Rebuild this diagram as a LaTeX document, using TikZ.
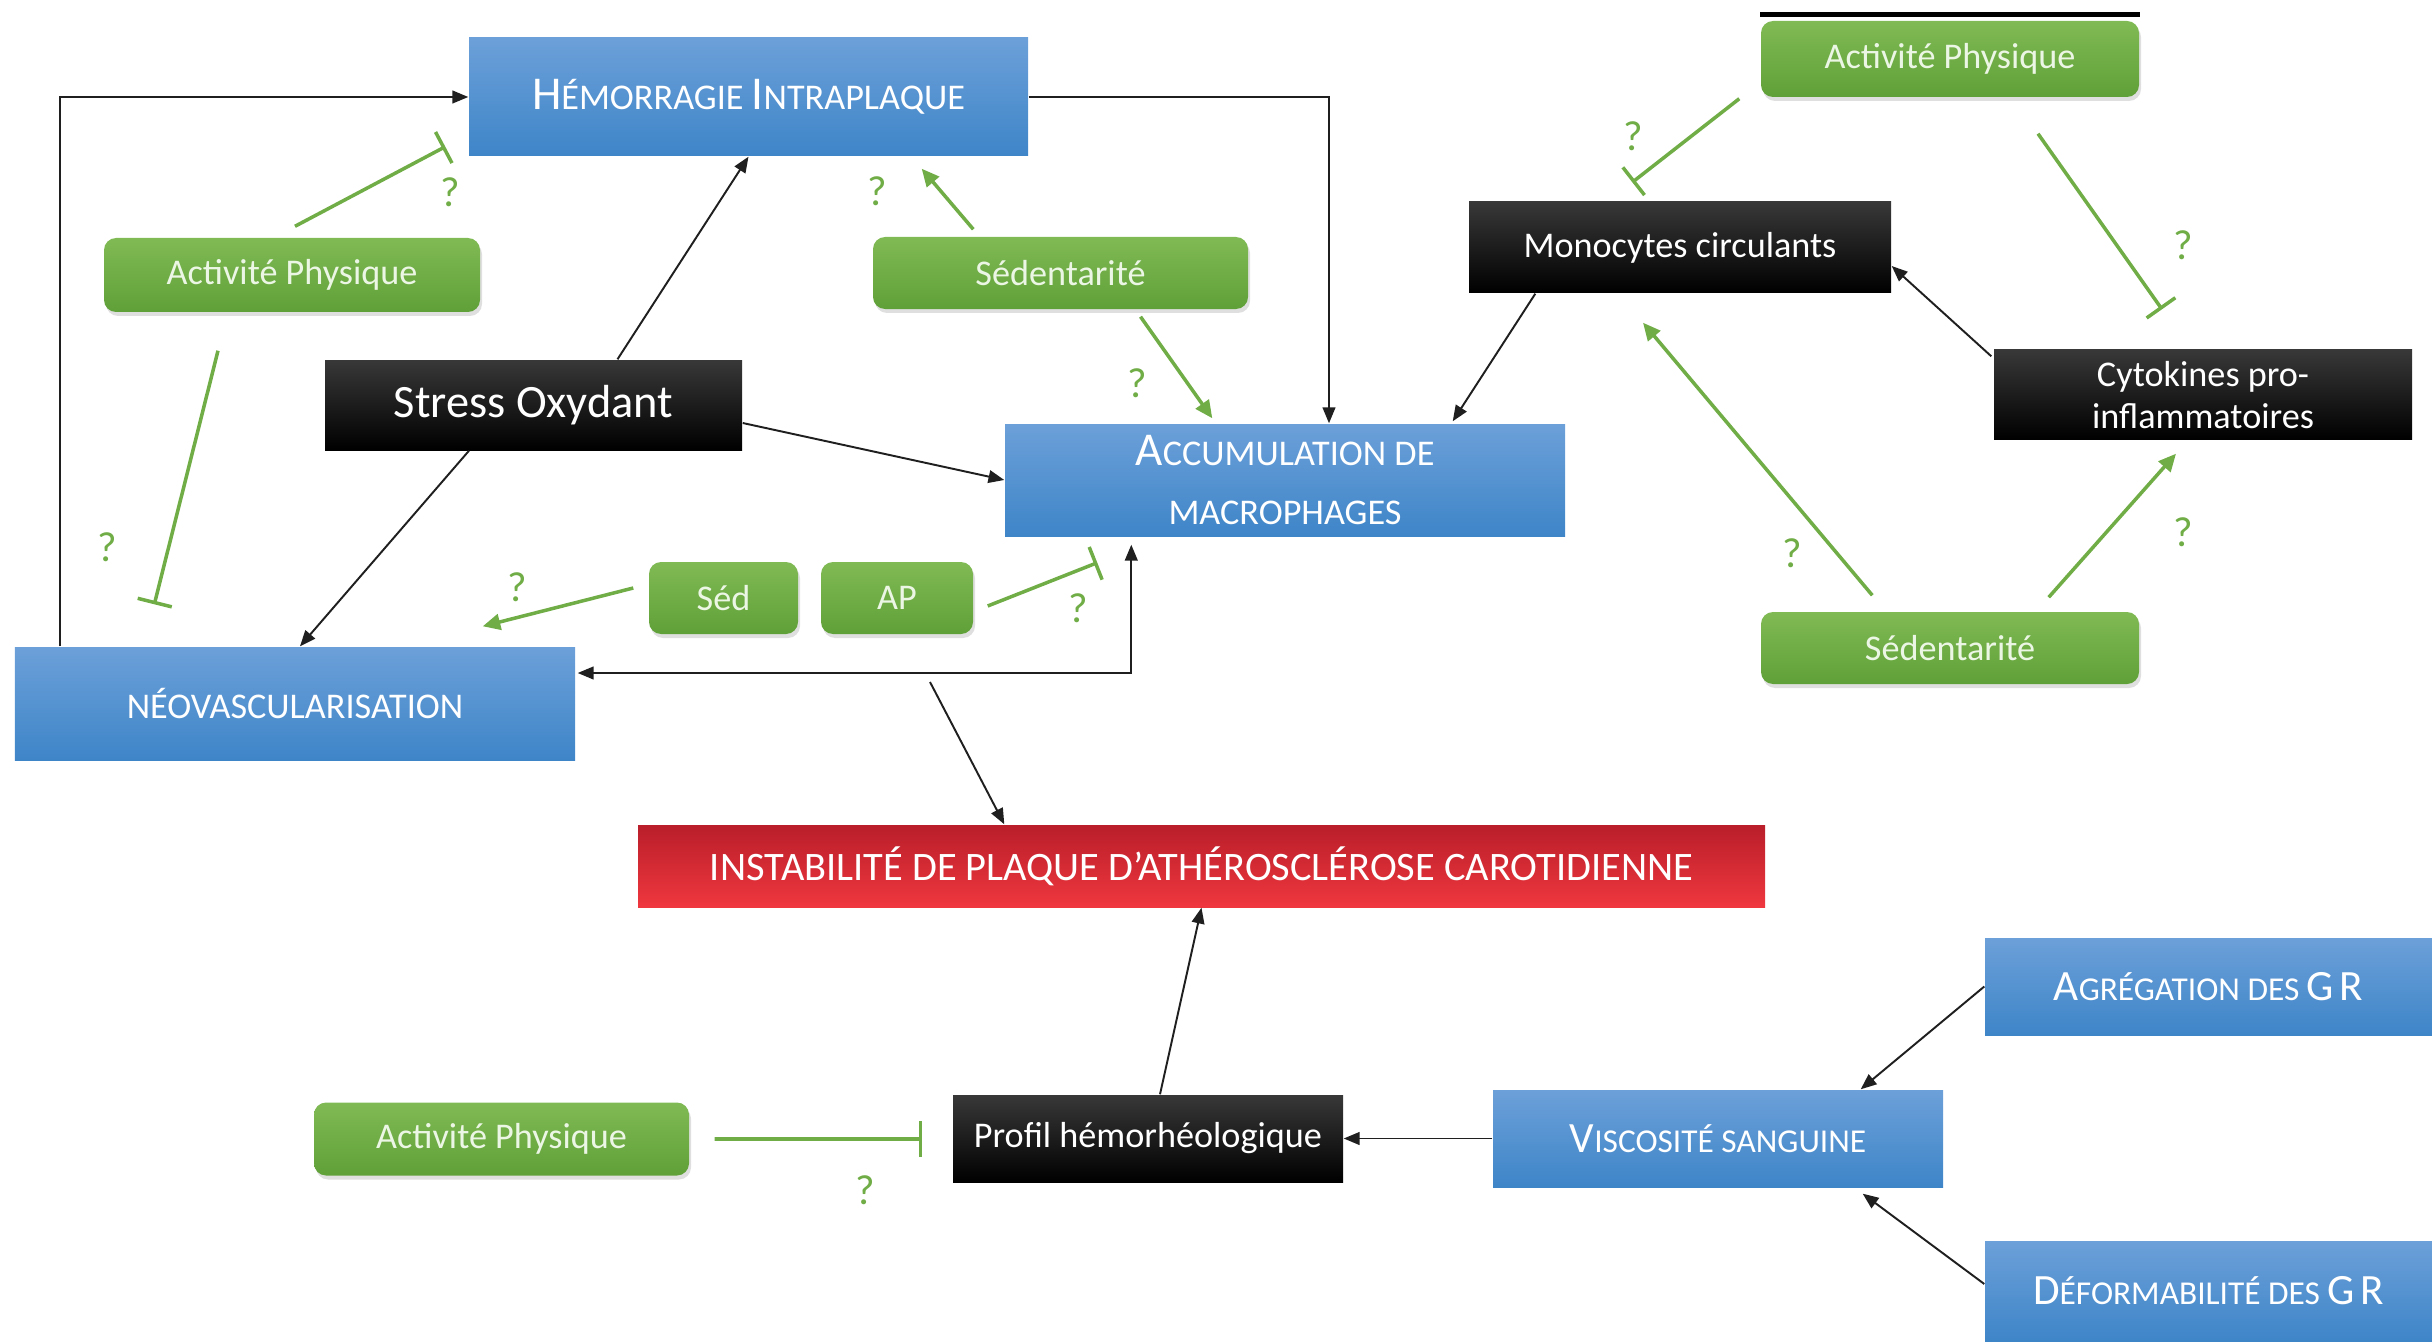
\documentclass[tikz,border=0pt]{standalone}
\usepackage{fontspec}
\setmainfont{Carlito}
\usetikzlibrary{arrows.meta,calc,shadows}
\definecolor{bleuh}{RGB}{108,160,217}
\definecolor{bleub}{RGB}{62,133,200}
\definecolor{verth}{RGB}{128,186,84}
\definecolor{vertb}{RGB}{96,160,56}
\definecolor{rougeh}{RGB}{185,30,42}
\definecolor{rougeb}{RGB}{237,28,36}
\definecolor{trait}{RGB}{112,173,71}
\definecolor{texteclair}{RGB}{236,246,228}
\newcommand{\grand}[2][13.4]{{\fontsize{#1}{#1}\selectfont #2}}
\begin{document}
\begin{tikzpicture}[
	bleu/.style={rectangle, top color=bleuh, bottom color=bleub, text=white, inner sep=0pt, align=center, font=\fontsize{10.3}{17}\selectfont},
	vert/.style={rectangle, rounded corners=0.12cm, top color=verth, bottom color=vertb, text=texteclair, inner sep=0pt, font=\fontsize{10.3}{12}\selectfont, drop shadow={opacity=0.25, shadow xshift=0.02cm, shadow yshift=-0.04cm}},
	noir/.style={rectangle, top color=black!78, middle color=black, bottom color=black, text=white, inner sep=0pt, align=center, font=\fontsize{10.3}{12}\selectfont},
	rouge/.style={rectangle, top color=rougeh, middle color=rougeb, bottom color=rougeb!88!white, text=white, inner sep=0pt, font=\fontsize{11.5}{12}\selectfont},
	fleche/.style={-{Triangle[length=4.5pt,width=3.6pt]}, draw=black!88, line width=0.55pt},
	fvert/.style={-{Triangle[length=5pt,width=4.5pt]}, draw=trait, line width=1pt},
	inhib/.style={-{Bar[width=10pt]}, draw=trait, line width=1pt},
	quest/.style={text=trait, font=\fontsize{12}{12}\selectfont}
	]
	\useasboundingbox (0,0) rectangle (24.32,13.41);
	\node[bleu, minimum width=5.59cm, minimum height=1.18cm] (hem) at (7.485,12.44) {\grand{H}ÉMORRAGIE \grand{I}NTRAPLAQUE};
	\node[vert, minimum width=3.76cm, minimum height=0.74cm] (apl) at (2.92,10.66) {Activité Physique};
	\node[vert, minimum width=3.75cm, minimum height=0.72cm] (sedm) at (10.605,10.68) {Sédentarité};
	\node[noir, minimum width=4.17cm, minimum height=0.90cm, font=\fontsize{13.2}{14}\selectfont] (stress) at (5.335,9.36) {Stress Oxydant};
	\node[bleu, minimum width=5.60cm, minimum height=1.12cm] (accu) at (12.85,8.61) {\grand{A}CCUMULATION DE\\MACROPHAGES};
	\node[vert, minimum width=3.78cm, minimum height=0.76cm] (apr) at (19.50,12.82) {Activité Physique};
	\node[noir, minimum width=4.22cm, minimum height=0.91cm] (mono) at (16.80,10.935) {Monocytes circulants};
	\node[noir, minimum width=4.18cm, minimum height=0.90cm] (cyto) at (22.03,9.46) {Cytokines pro-\\inflammatoires};
	\node[vert, minimum width=3.78cm, minimum height=0.72cm] (sedr) at (19.50,6.93) {Sédentarité};
	\node[vert, minimum width=1.49cm, minimum height=0.72cm] (sed) at (7.235,7.43) {Séd};
	\node[vert, minimum width=1.52cm, minimum height=0.72cm] (ap) at (8.97,7.43) {AP};
	\node[bleu, minimum width=5.60cm, minimum height=1.13cm] (neo) at (2.95,6.375) {NÉOVASCULARISATION};
	\node[rouge, minimum width=11.27cm, minimum height=0.82cm] (inst) at (12.015,4.75) {INSTABILITÉ DE PLAQUE D’ATHÉROSCLÉROSE CAROTIDIENNE};
	\node[bleu, font=\fontsize{9.5}{12}\selectfont, minimum width=4.47cm, minimum height=0.97cm] (agr) at (22.085,3.545) {\grand[12.3]{A}GRÉGATION DES \grand[12.3]{G}\,\grand[12.3]{R}};
	\node[bleu, font=\fontsize{9.5}{12}\selectfont, minimum width=4.50cm, minimum height=0.97cm] (visc) at (17.18,2.025) {\grand[12.3]{V}ISCOSITÉ SANGUINE};
	\node[noir, minimum width=3.90cm, minimum height=0.87cm] (prof) at (11.48,2.025) {Profil hémorhéologique};
	\node[vert, minimum width=3.75cm, minimum height=0.73cm] (apb) at (5.015,2.02) {Activité Physique};
	\node[bleu, font=\fontsize{9.5}{12}\selectfont, minimum width=4.47cm, minimum height=1.0cm] (def) at (22.085,0.50) {\grand[12.3]{D}ÉFORMABILITÉ DES \grand[12.3]{G}\,\grand[12.3]{R}};
	\coordinate (brk) at (9.30,6.59);
	\draw[line width=1.3pt] ($(apr.north west)+(0,0.06)$) -- ($(apr.north east)+(0,0.06)$);
	\draw[fleche] (neo.north west) ++(0.46,0) |- (hem.west);
	\draw[fleche] (hem.east) -| ($(accu.north)+(0.44,0)$);
	\draw[fleche] ($(stress.north)+(0.84,0)$) -- (hem.south);
	\draw[fleche] ($(stress.east)+(0,-0.18)$) -- (accu.west);
	\draw[fleche] ($(stress.south)+(-0.645,0)$) -- ($(neo.north)+(0.05,0)$);
	\draw[fleche, {Triangle[length=4.5pt,width=3.6pt]}-{Triangle[length=4.5pt,width=3.6pt]}] ($(accu.south west)+(1.27,-0.08)$) |- ($(neo.east)+(0.02,0.305)$);
	\draw[fleche] (brk) -- ($(inst.north west)+(3.67,0)$);
	\draw[fleche] ($(prof.north)+(0.12,0)$) -- (inst.south);
	\draw[fleche] (visc.west) -- (prof.east);
	\draw[fleche] (agr.west) -- ($(visc.north east)+(-0.83,0)$);
	\draw[fleche] ($(def.west)+(0,0.07)$) -- ($(visc.south east)+(-0.81,-0.06)$);
	\draw[fleche] ($(mono.south west)+(0.67,0)$) -- ($(accu.north east)+(-1.13,0.02)$);
	\draw[fleche] ($(cyto.north west)+(-0.02,-0.07)$) -- ($(mono.east)+(0,-0.185)$);
	\draw[inhib] ($(apl.north)+(0.03,0.11)$) -- ($(hem.south west)+(-0.23,0.10)$);
	\draw[inhib] ($(apl.south)+(-0.74,-0.38)$) -- ($(neo.north west)+(1.40,0.42)$);
	\draw[fvert] ($(sedm.north west)+(1.01,0.07)$) -- ($(hem.south east)+(-1.07,-0.12)$);
	\draw[fvert] ($(sedm.south)+(0.80,-0.07)$) -- ($(accu.north west)+(2.08,0.05)$);
	\draw[fvert] ($(sed.west)+(-0.15,0.10)$) -- ($(neo.north east)+(-0.93,0.20)$);
	\draw[inhib] ($(ap.east)+(0.14,-0.08)$) -- ($(accu.south west)+(0.93,-0.26)$);
	\draw[inhib] ($(apb.east)+(0.25,0)$) -- ($(prof.west)+(-0.30,-0.005)$);
	\draw[inhib] ($(apr.south west)+(-0.21,-0.01)$) -- ($(mono.north west)+(1.64,0.19)$);
	\draw[inhib] ($(apr.south)+(0.88,-0.36)$) -- ($(cyto.north)+(-0.41,0.40)$);
	\draw[fvert] ($(sedr.north west)+(1.12,0.16)$) -- ($(mono.south)+(-0.37,-0.29)$);
	\draw[fvert] ($(sedr.north east)+(-0.91,0.14)$) -- ($(cyto.south)+(-0.27,-0.13)$);
	\node[quest] (q1) at (4.50,11.49) {?};
	\node[quest] (q2) at (1.07,7.94) {?};
	\node[quest] (q3) at (8.77,11.50) {?};
	\node[quest] (q4) at (11.37,9.58) {?};
	\node[quest] (q5) at (5.17,7.54) {?};
	\node[quest] (q6) at (10.78,7.33) {?};
	\node[quest] (q7) at (8.65,1.51) {?};
	\node[quest] (q8) at (16.33,12.05) {?};
	\node[quest] (q9) at (21.83,10.96) {?};
	\node[quest] (q10) at (17.92,7.88) {?};
	\node[quest] (q11) at (21.83,8.09) {?};
\end{tikzpicture}
\end{document}
